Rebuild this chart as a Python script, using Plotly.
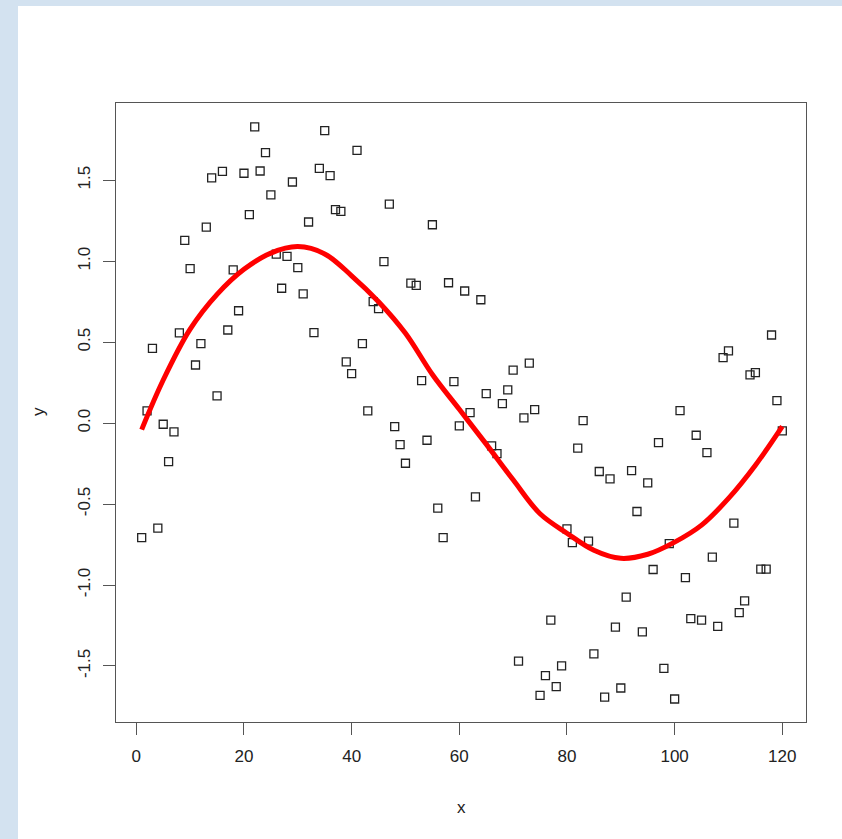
import plotly.graph_objects as go

# scatter data (x = 1..120)
x_vals = list(range(1, 121))
y_vals = [
    -0.707, 0.075, 0.462, -0.649, -0.007, -0.238, -0.054, 0.557, 1.129, 0.954,
    0.359, 0.491, 1.211, 1.515, 0.168, 1.555, 0.575, 0.946, 0.694, 1.543,
    1.287, 1.830, 1.557, 1.670, 1.410, 1.044, 0.833, 1.030, 1.489, 0.960,
    0.798, 1.242, 0.559, 1.573, 1.806, 1.528, 1.318, 1.308, 0.378, 0.306,
    1.685, 0.491, 0.075, 0.750, 0.707, 0.997, 1.353, -0.022, -0.133, -0.248,
    0.864, 0.851, 0.262, -0.106, 1.225, -0.525, -0.707, 0.867, 0.256, -0.017,
    0.816, 0.065, -0.456, 0.762, 0.182, -0.141, -0.188, 0.120, 0.205, 0.327,
    -1.470, 0.032, 0.370, 0.083, -1.682, -1.559, -1.217, -1.628, -1.499, -0.653,
    -0.738, -0.155, 0.015, -0.729, -1.425, -0.299, -1.692, -0.344, -1.260, -1.636,
    -1.075, -0.293, -0.546, -1.289, -0.369, -0.904, -0.120, -1.515, -0.744, -1.704,
    0.077, -0.954, -1.207, -0.075, -1.217, -0.182, -0.828, -1.256, 0.404, 0.446,
    -0.618, -1.170, -1.098, 0.298, 0.312, -0.902, -0.902, 0.544, 0.139, -0.048,
]

# smooth fit curve
fit_x = [1, 5, 10, 15, 20, 25, 30, 35, 40, 45, 50, 55, 60, 65, 70, 75, 80, 85, 90, 95,
         100, 105, 110, 115, 120]
fit_y = [-0.04, 0.266, 0.58, 0.795, 0.95, 1.05, 1.09, 1.045, 0.91, 0.75, 0.555, 0.30, 0.085,
         -0.13, -0.35, -0.56, -0.68, -0.785, -0.835, -0.81, -0.735, -0.63, -0.465, -0.26, -0.02]

x_ticks = [0, 20, 40, 60, 80, 100, 120]
y_ticks = [-1.5, -1.0, -0.5, 0.0, 0.5, 1.0, 1.5]
y_tick_labels = ["-1.5", "-1.0", "-0.5", "0.0", "0.5", "1.0", "1.5"]

FONT = "Liberation Sans, Arial, sans-serif"

fig = go.Figure()
fig.add_trace(go.Scatter(
    x=x_vals, y=y_vals, mode="markers",
    marker=dict(symbol="square-open", size=8, color="#222222", line=dict(width=1.3, color="#222222")),
    showlegend=False, hoverinfo="x+y",
))
fig.add_trace(go.Scatter(
    x=fit_x, y=fit_y, mode="lines",
    line=dict(color="#ff0000", width=5, shape="spline", smoothing=1.0),
    showlegend=False,
))

L, R, T, B = 116, 36, 103, 117
W, H = 842, 839
pw = W - L - R
ph = H - T - B

def px2x(p):
    return (p - L) / pw

def py2y(p):
    return (H - B - p) / ph

axis_common = dict(
    showline=True, linecolor="#555555", linewidth=1.3, mirror=True,
    ticks="outside", ticklen=12, tickwidth=1.3, tickcolor="#555555",
    showgrid=False, zeroline=False,
    tickfont=dict(family=FONT, size=17, color="#222222"),
)

fig.update_layout(
    width=W, height=H,
    margin=dict(l=L, r=R, t=T, b=B),
    paper_bgcolor="white", plot_bgcolor="white",
    xaxis=dict(range=[-3.77, 124.4], tickvals=x_ticks, ticklabelstandoff=6, **axis_common),
    yaxis=dict(range=[-1.846, 1.977], tickvals=y_ticks, ticktext=y_tick_labels,
               tickangle=-90, ticklabelstandoff=6, **axis_common),
    font=dict(family=FONT, size=17, color="#222222"),
    shapes=[
        dict(type="rect", xref="paper", yref="paper", x0=px2x(0), x1=px2x(18), y0=py2y(H), y1=py2y(0),
             fillcolor="#d3e2f0", line=dict(width=0), layer="below"),
        dict(type="rect", xref="paper", yref="paper", x0=px2x(0), x1=px2x(W), y0=py2y(6), y1=py2y(0),
             fillcolor="#d3e2f0", line=dict(width=0), layer="below"),
    ],
    annotations=[
        dict(text="x", xref="paper", yref="paper", x=px2x(461), y=py2y(807), showarrow=False,
             xanchor="center", yanchor="middle", font=dict(family=FONT, size=17, color="#222222")),
        dict(text="y", xref="paper", yref="paper", x=px2x(38), y=py2y(412), showarrow=False,
             textangle=-90, xanchor="center", yanchor="middle", font=dict(family=FONT, size=17, color="#222222")),
    ],
)

fig.write_html("out.html", post_script="document.body.style.margin='0';", config={"displayModeBar": False})
